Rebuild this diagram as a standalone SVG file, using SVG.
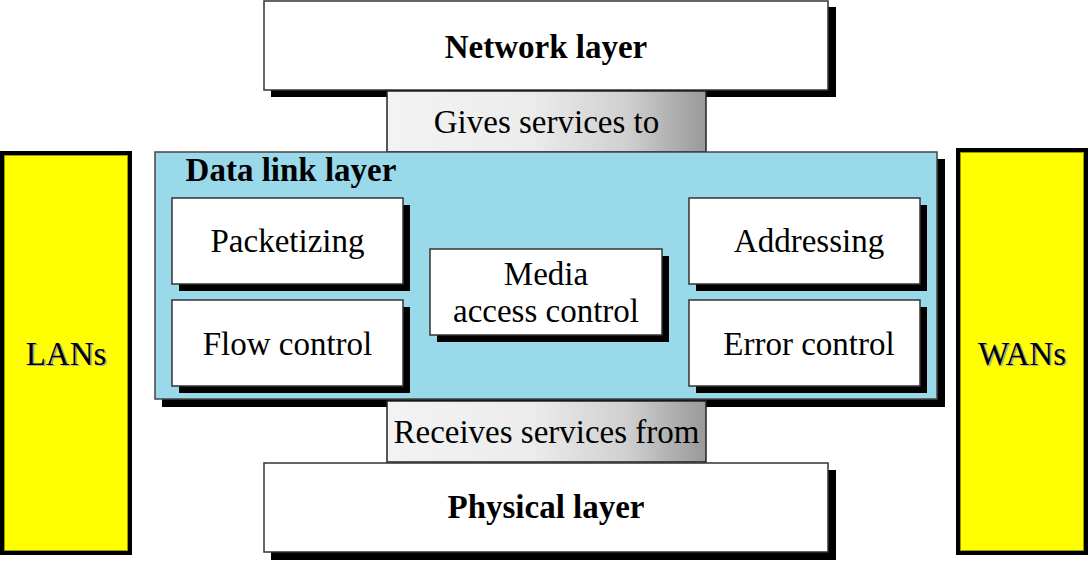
<svg xmlns="http://www.w3.org/2000/svg" width="1089" height="561" viewBox="0 0 1089 561" font-family="Liberation Serif, DejaVu Serif, serif">
  <defs>
    <linearGradient id="grey" x1="0" y1="0" x2="1" y2="0">
      <stop offset="0" stop-color="#f3f3f3"/>
      <stop offset="0.45" stop-color="#ececec"/>
      <stop offset="0.75" stop-color="#d0d0d0"/>
      <stop offset="1" stop-color="#999999"/>
    </linearGradient>
  </defs>
  <style>
    .box { fill: #ffffff; stroke: #333333; stroke-width: 1.5; }
    .shadow { fill: #000000; }
    .grad { fill: url(#grey); stroke: #222222; stroke-width: 1.5; }
    .dll { fill: #99d9ea; stroke: #444444; stroke-width: 1.5; }
    .yellow { fill: #ffff00; stroke: #000000; stroke-width: 4; }
    .yinner { fill: none; stroke: #9a9a00; stroke-width: 1; }
    .t { font-size: 33px; fill: #000000; text-anchor: middle; }
    .b { font-weight: bold; }
    .ts { font-size: 33px; fill: #a8a8a8; text-anchor: middle; }
  </style>

  <g id="lans">
    <rect class="yellow" x="2" y="153" width="128" height="400"/>
    <rect class="yinner" x="4.5" y="155.5" width="123" height="395"/>
    <text class="ts" x="67.5" y="366">LANs</text>
    <text class="t" x="66" y="365">LANs</text>
  </g>

  <g id="wans">
    <rect class="yellow" x="958" y="150" width="128" height="403"/>
    <rect class="yinner" x="960.5" y="152.5" width="123" height="398"/>
    <text class="ts" x="1023.5" y="366">WANs</text>
    <text class="t" x="1022" y="365">WANs</text>
  </g>

  <g id="network-layer">
    <rect class="shadow" x="271" y="7" width="565" height="90"/>
    <rect class="box" x="264" y="1" width="564" height="89"/>
    <text class="t b" x="546" y="58">Network layer</text>
  </g>

  <g id="gives-services">
    <rect class="grad" x="387" y="91" width="319" height="61"/>
    <text class="t" x="546.5" y="133">Gives services to</text>
  </g>

  <g id="data-link-layer">
    <rect class="shadow" x="162" y="159" width="783" height="248"/>
    <rect class="dll" x="155" y="152" width="782" height="247"/>
    <text class="t b" x="291" y="181">Data link layer</text>
  </g>

  <g id="packetizing">
    <rect class="shadow" x="179" y="205" width="231" height="86"/>
    <rect class="box" x="172" y="198" width="231" height="86"/>
    <text class="t" x="287.5" y="252">Packetizing</text>
  </g>

  <g id="flow-control">
    <rect class="shadow" x="179" y="307" width="231" height="86"/>
    <rect class="box" x="172" y="300" width="231" height="86"/>
    <text class="t" x="287.5" y="355">Flow control</text>
  </g>

  <g id="media-access-control">
    <rect class="shadow" x="437" y="256" width="232" height="86"/>
    <rect class="box" x="430" y="249" width="232" height="86"/>
    <text class="t" x="546" y="285">Media</text>
    <text class="t" x="546" y="322">access control</text>
  </g>

  <g id="addressing">
    <rect class="shadow" x="696" y="205" width="231" height="86"/>
    <rect class="box" x="689" y="198" width="231" height="86"/>
    <text class="t" x="809" y="252">Addressing</text>
  </g>

  <g id="error-control">
    <rect class="shadow" x="696" y="307" width="231" height="86"/>
    <rect class="box" x="689" y="300" width="231" height="86"/>
    <text class="t" x="809" y="355">Error control</text>
  </g>

  <g id="receives-services">
    <rect class="grad" x="387" y="401" width="319" height="61"/>
    <text class="t" x="546.5" y="443">Receives services from</text>
  </g>

  <g id="physical-layer">
    <rect class="shadow" x="271" y="470" width="565" height="90"/>
    <rect class="box" x="264" y="463" width="564" height="89"/>
    <text class="t b" x="546" y="518">Physical layer</text>
  </g>

  <g id="connectors"></g>
</svg>
